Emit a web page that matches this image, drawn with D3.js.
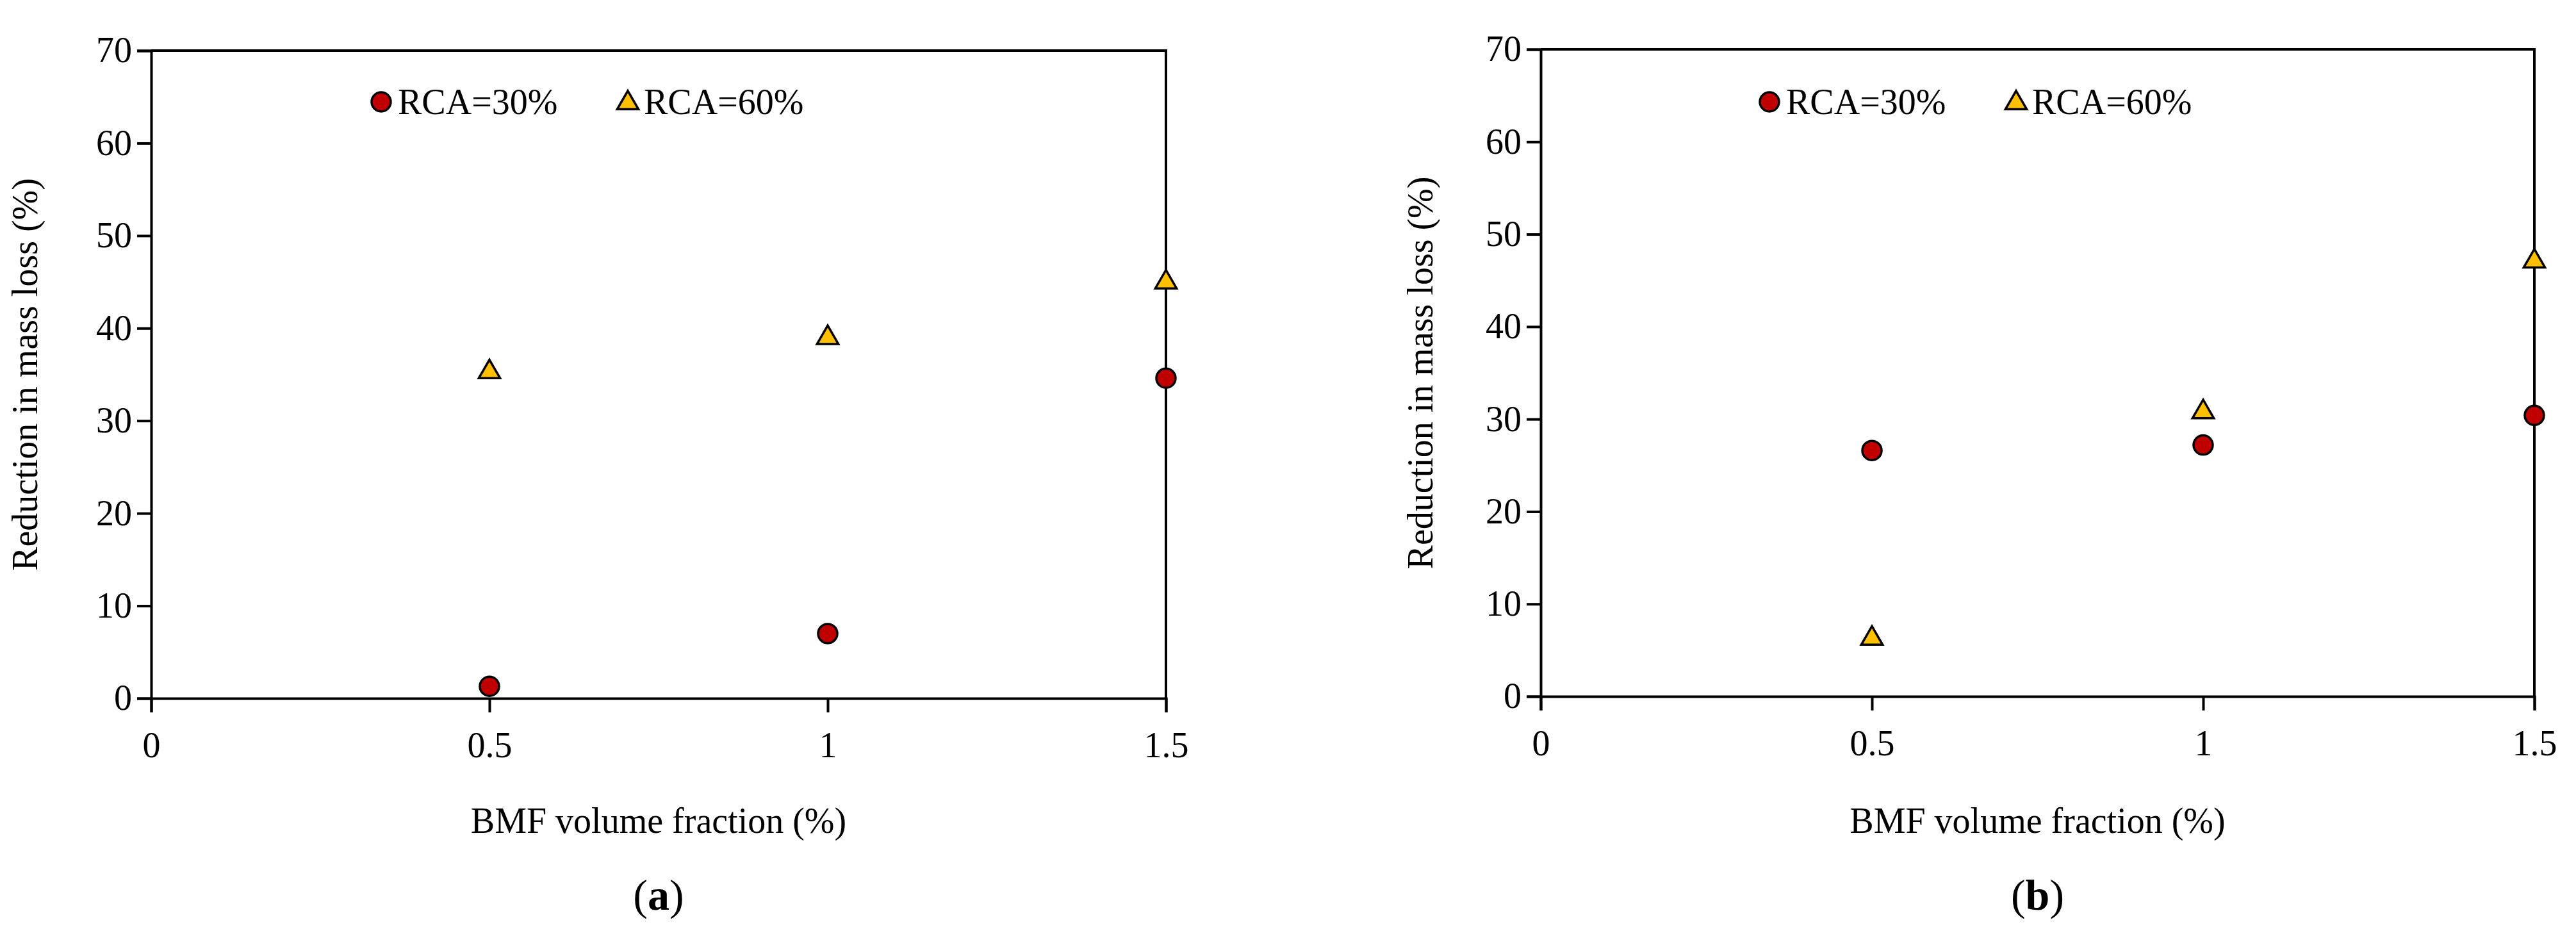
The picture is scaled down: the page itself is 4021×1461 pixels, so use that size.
<!DOCTYPE html>
<html><head><meta charset="utf-8">
<script src="https://cdn.jsdelivr.net/npm/d3@7"></script>
<style>body{margin:0;background:#fff}svg text{font-family:"Liberation Serif",serif}</style>
</head><body>
<script>
const xVals=[0.5,1,1.5];
const xTicks=[0,0.5,1,1.5];
const yTicks=[0,10,20,30,40,50,60,70];
const a_rca30=[1.3,7.0,34.6];
const a_rca60=[35.4,39.1,45.1];
const b_rca30=[26.6,27.2,30.4];
const b_rca60=[6.4,30.9,47.2];
const panels=[
 {label:"a",r30:a_rca30,r60:a_rca60,L:236,R:1820,T:79,B:1090,ytx:58,leg:595},
 {label:"b",r30:b_rca30,r60:b_rca60,L:2405,R:3956,T:77,B:1087,ytx:2236,leg:2762}
];
const svg=d3.select("body").append("svg").attr("width",4021).attr("height",1461);
const fs=56;
panels.forEach(p=>{
 const x=d3.scaleLinear().domain([0,1.5]).range([p.L,p.R]);
 const y=d3.scaleLinear().domain([0,70]).range([p.B,p.T]);
 const g=svg.append("g");
 g.append("g").attr("transform",`translate(0,${p.B})`)
  .call(d3.axisBottom(x).tickValues(xTicks).tickFormat(d3.format("")).tickSize(22).tickPadding(30))
  .call(s=>s.selectAll("text").attr("font-size",fs).attr("font-family","Liberation Serif"))
  .call(s=>s.selectAll("line,path").attr("stroke","#000").attr("stroke-width",4));
 g.append("g").attr("transform",`translate(${p.L},0)`)
  .call(d3.axisLeft(y).tickValues(yTicks).tickSize(22).tickPadding(8))
  .call(s=>s.selectAll("text").attr("font-size",fs).attr("font-family","Liberation Serif"))
  .call(s=>s.selectAll("line,path").attr("stroke","#000").attr("stroke-width",4));
 g.append("path").attr("d",`M${p.L},${p.T}H${p.R}V${p.B}`).attr("fill","none").attr("stroke","#000").attr("stroke-width",4);
 const sym=d3.symbol().type(d3.symbolTriangle).size(480);
 g.selectAll(".c").data(p.r30).join("circle").attr("cx",(d,i)=>x(xVals[i])).attr("cy",d=>y(d)).attr("r",15)
  .attr("fill","#c00000").attr("stroke","#000").attr("stroke-width",3.5);
 g.selectAll(".t").data(p.r60).join("path").attr("d",sym).attr("transform",(d,i)=>`translate(${x(xVals[i])},${y(d)+2})`)
  .attr("fill","#ffc000").attr("stroke","#000").attr("stroke-width",3.5);
 const ly=159;
 g.append("circle").attr("cx",p.leg).attr("cy",ly).attr("r",15).attr("fill","#c00000").attr("stroke","#000").attr("stroke-width",3.5);
 g.append("text").attr("x",p.leg+26).attr("y",ly+19).attr("font-size",fs).text("RCA=30%");
 g.append("path").attr("d",sym).attr("transform",`translate(${p.leg+385},${ly+2})`).attr("fill","#ffc000").attr("stroke","#000").attr("stroke-width",3.5);
 g.append("text").attr("x",p.leg+410).attr("y",ly+19).attr("font-size",fs).text("RCA=60%");
 g.append("text").attr("transform",`translate(${p.ytx},${(p.T+p.B)/2}) rotate(-90)`).attr("text-anchor","middle").attr("font-size",fs).text("Reduction in  mass loss (%)");
 g.append("text").attr("x",(p.L+p.R)/2).attr("y",1300).attr("text-anchor","middle").attr("font-size",fs).text("BMF volume fraction (%)");
 const t=g.append("text").attr("x",(p.L+p.R)/2).attr("y",1420).attr("text-anchor","middle").attr("font-size",68);
 t.append("tspan").text("(");t.append("tspan").attr("font-weight","bold").text(p.label);t.append("tspan").text(")");
});
</script>
</body></html>
